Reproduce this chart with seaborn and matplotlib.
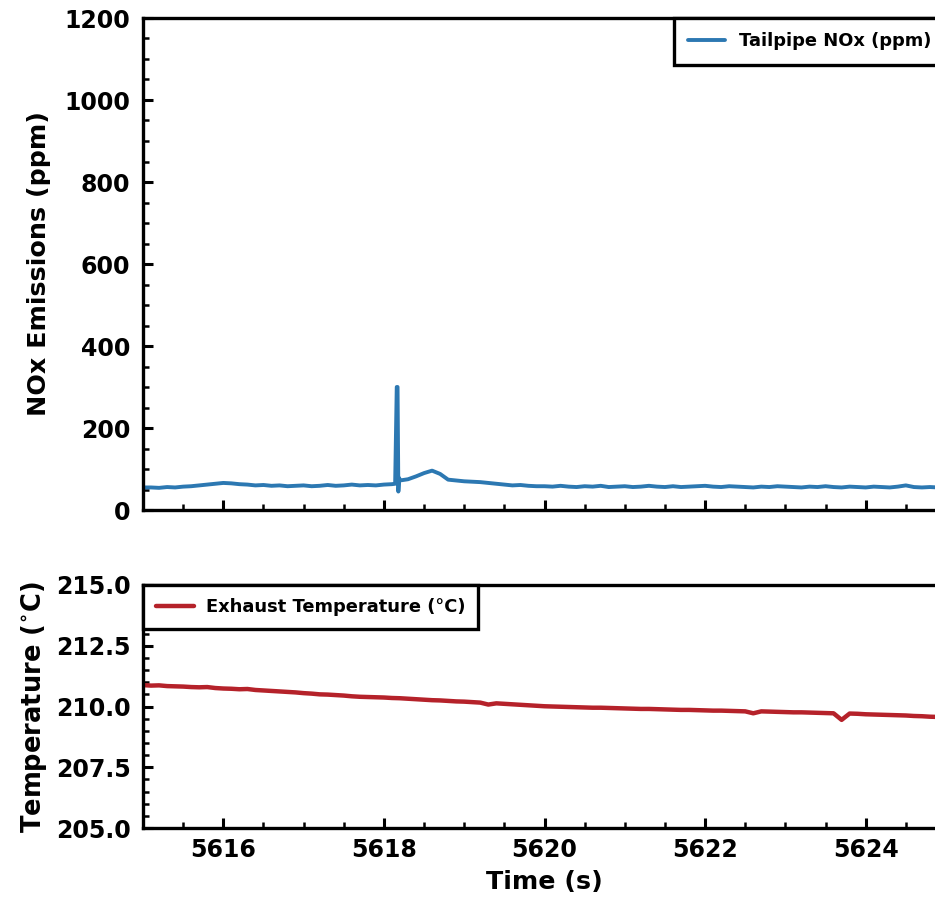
import numpy as np
import pandas as pd
import matplotlib
matplotlib.use("Agg")
import matplotlib.pyplot as plt
import seaborn as sns
from matplotlib.ticker import MultipleLocator

# ---------------- data ----------------
nox_time_base = [round(5615.0 + 0.1 * i, 1) for i in range(101)]
nox_base = [
    55, 55, 54, 56, 55, 57, 58, 60, 62, 64,
    66, 65, 63, 62, 60, 61, 59, 60, 58, 59,
    60, 58, 59, 61, 59, 60, 62, 60, 61, 60,
    62, 63, 72, 75, 82, 90, 96, 88, 74, 72,
    70, 69, 68, 66, 64, 62, 60, 61, 59, 58,
    58, 57, 59, 57, 56, 58, 57, 59, 56, 57,
    58, 56, 57, 59, 57, 56, 58, 56, 57, 58,
    59, 57, 56, 58, 57, 56, 55, 57, 56, 58,
    57, 56, 55, 57, 56, 58, 56, 55, 57, 56,
    55, 57, 56, 55, 57, 60, 56, 55, 56, 55,
    55,
]
spike_time = [5618.14, 5618.16, 5618.17, 5618.18, 5618.19]
spike_nox = [64, 300, 300, 45, 78]

temp_time = [round(5615.0 + 0.1 * i, 1) for i in range(101)]
temp_vals = [
    210.88, 210.86, 210.87, 210.84, 210.83, 210.82, 210.80, 210.79, 210.80, 210.76,
    210.74, 210.73, 210.71, 210.72, 210.68, 210.66, 210.64, 210.62, 210.60, 210.58,
    210.55, 210.53, 210.50, 210.49, 210.47, 210.45, 210.42, 210.40, 210.39, 210.38,
    210.37, 210.35, 210.34, 210.32, 210.30, 210.28, 210.26, 210.25, 210.23, 210.21,
    210.20, 210.18, 210.16, 210.08, 210.13, 210.11, 210.09, 210.07, 210.05, 210.03,
    210.01, 210.00, 209.99, 209.98, 209.97, 209.96, 209.95, 209.95, 209.94, 209.93,
    209.92, 209.91, 209.90, 209.90, 209.89, 209.88, 209.87, 209.86, 209.86, 209.85,
    209.84, 209.83, 209.83, 209.82, 209.81, 209.80, 209.72, 209.80, 209.79, 209.78,
    209.77, 209.76, 209.76, 209.75, 209.74, 209.73, 209.72, 209.45, 209.71, 209.70,
    209.68, 209.67, 209.66, 209.65, 209.64, 209.63, 209.61, 209.60, 209.58, 209.57,
    209.55,
]

nox_df = pd.DataFrame({"t": nox_time_base + spike_time, "v": nox_base + spike_nox})
nox_df = nox_df.sort_values("t").reset_index(drop=True)
temp_df = pd.DataFrame({"t": temp_time, "v": temp_vals})

# ---------------- style ----------------
sns.set_style("ticks")
plt.rcParams["font.family"] = ["DejaVu Sans"]
plt.rcParams["font.weight"] = "bold"
plt.rcParams["axes.labelweight"] = "bold"
for k in ("text.color", "axes.labelcolor", "xtick.color", "ytick.color", "axes.edgecolor"):
    plt.rcParams[k] = "black"

fig = plt.figure(figsize=(9.35, 8.98), dpi=100)
W, H = 935.0, 898.0
ax1 = fig.add_axes([143 / W, (H - 510) / H, (946 - 143) / W, (510 - 18) / H])
ax2 = fig.add_axes([143 / W, (H - 828) / H, (946 - 143) / W, (828 - 585) / H])

sns.lineplot(data=nox_df, x="t", y="v", ax=ax1, color="#2c78b2", linewidth=2.8,
             label="Tailpipe NOx (ppm)", sort=False, estimator=None)
sns.lineplot(data=temp_df, x="t", y="v", ax=ax2, color="#b5222a", linewidth=3.2,
             label="Exhaust Temperature (°C)", estimator=None)

ax1.set_ylim(0, 1200)
ax2.set_ylim(205, 215)
for ax in (ax1, ax2):
    ax.set_xlim(5615, 5625)
    ax.xaxis.set_major_locator(MultipleLocator(2))
    ax.xaxis.set_minor_locator(MultipleLocator(0.5))
    for s in ax.spines.values():
        s.set_linewidth(2.4)
        s.set_color("black")
    ax.tick_params(which="major", direction="in", length=7, width=2.2,
                   labelsize=17, top=False, right=False, colors="black")
    ax.tick_params(axis="y", which="major", pad=9)
    ax.tick_params(axis="x", which="major", pad=7)
    ax.tick_params(which="minor", direction="in", length=4, width=1.8,
                   top=False, right=False, colors="black")
    for lab in ax.get_xticklabels() + ax.get_yticklabels():
        lab.set_fontweight("bold")

ax1.yaxis.set_major_locator(MultipleLocator(200))
ax1.yaxis.set_minor_locator(MultipleLocator(50))
ax2.yaxis.set_major_locator(MultipleLocator(2.5))
ax2.yaxis.set_minor_locator(MultipleLocator(0.5))
ax2.yaxis.set_major_formatter(matplotlib.ticker.FormatStrFormatter("%.1f"))

ax1.tick_params(axis="x", labelbottom=False)
ax1.set_xlabel("")
ax1.set_ylabel("NOx Emissions (ppm)", fontsize=18.3, fontweight="bold", labelpad=10)
ax2.set_ylabel("Temperature ($^{\\circ}$C)", fontsize=18.5, fontweight="bold", labelpad=5)
ax2.set_xlabel("Time (s)", fontsize=18.3, fontweight="bold", labelpad=6)

leg1 = ax1.legend(loc="upper right", fontsize=12.9, frameon=True, fancybox=False,
                  framealpha=1, edgecolor="black", borderaxespad=0, borderpad=0.8,
                  handlelength=2.05, handletextpad=0.8)
leg2 = ax2.legend(loc="upper left", fontsize=12.9, frameon=True, fancybox=False,
                  framealpha=1, edgecolor="black", borderaxespad=0, borderpad=0.72,
                  handlelength=2.15, handletextpad=0.65)
for leg in (leg1, leg2):
    leg.get_frame().set_linewidth(2.4)
    for t in leg.get_texts():
        t.set_fontweight("bold")
        t.set_color("black")

fig.savefig("out.png", dpi=100)
